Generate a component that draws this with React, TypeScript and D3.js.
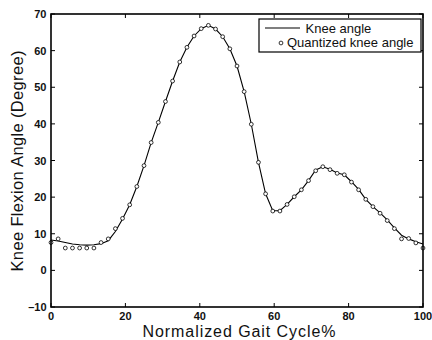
import React from "react";
import * as d3 from "d3";

// Knee flexion over one gait cycle, 53 evenly spaced samples (0–100 %)
const sampleCount = 53;
const kneeAngle = [
  8.3, 8.0, 7.6, 7.2, 7.0, 6.9, 7.0, 7.3, 8.1, 10.6, 14.0, 17.9, 22.9,
  28.6, 34.9, 40.4, 46.1, 51.7, 56.9, 60.9, 64.0, 66.0, 66.9, 65.9, 63.8,
  60.5, 55.8, 48.8, 39.9, 29.5, 20.9, 16.3, 16.3, 18.0, 20.1, 22.0, 24.5,
  27.4, 28.3, 27.6, 26.6, 26.1, 24.2, 22.1, 19.4, 17.4, 15.7, 13.8, 11.6,
  9.6, 8.6, 7.8, 7.2,
];
const quantizedAngle = [
  7.6, 8.6, 6.1, 6.1, 6.1, 6.1, 6.1, 7.6, 8.6, 11.4, 14.2, 17.9, 22.9,
  28.6, 34.9, 40.4, 46.1, 51.7, 56.9, 60.9, 64.0, 66.0, 66.9, 65.9, 63.8,
  60.5, 55.8, 48.8, 39.9, 29.5, 20.9, 16.2, 16.2, 18.0, 20.1, 22.0, 24.5,
  27.2, 28.3, 27.5, 26.5, 26.1, 24.1, 22.0, 19.4, 17.4, 15.6, 13.6, 11.4,
  8.6, 8.7, 7.5, 6.1,
];
const gaitPercent = d3.range(sampleCount).map((i) => (i * 100) / (sampleCount - 1));

const xTicks = [0, 20, 40, 60, 80, 100];
const yTicks = [-10, 0, 10, 20, 30, 40, 50, 60, 70];
const legendLabels = ["Knee angle", "Quantized knee angle"];

const W = 432;
const H = 340;
const plot = { left: 51, right: 423, top: 14, bottom: 307 };
const FONT = "'Liberation Sans', Arial, Helvetica, sans-serif";

export default function App() {
  const x = d3.scaleLinear().domain([0, 100]).range([plot.left, plot.right]);
  const y = d3.scaleLinear().domain([-10, 70]).range([plot.bottom, plot.top]);

  const line = d3
    .line<number>()
    .x((_, i) => x(gaitPercent[i]))
    .y((d) => y(d));

  const tickLen = 4;
  const lg = { x: 259, y: 19, w: 162, h: 33 };

  return (
    <svg
      width={W}
      height={H}
      viewBox={`0 0 ${W} ${H}`}
      style={{ position: "absolute", left: 0, top: 0, background: "#fff" }}
      fontFamily={FONT}
    >
      <rect x={0} y={0} width={W} height={H} fill="#fff" />

      {/* ticks on all four sides, pointing inward */}
      <g stroke="#000" strokeWidth={1}>
        {xTicks.map((t) => (
          <g key={`xt${t}`}>
            <line x1={x(t)} x2={x(t)} y1={plot.bottom} y2={plot.bottom - tickLen} />
            <line x1={x(t)} x2={x(t)} y1={plot.top} y2={plot.top + tickLen} />
          </g>
        ))}
        {yTicks.map((t) => (
          <g key={`yt${t}`}>
            <line x1={plot.left} x2={plot.left + tickLen} y1={y(t)} y2={y(t)} />
            <line x1={plot.right} x2={plot.right - tickLen} y1={y(t)} y2={y(t)} />
          </g>
        ))}
      </g>

      {/* knee angle curve */}
      <path d={line(kneeAngle) ?? ""} fill="none" stroke="#000" strokeWidth={1.1} />

      {/* quantized samples */}
      <g fill="#fff" stroke="#000" strokeWidth={0.8}>
        {quantizedAngle.map((v, i) => (
          <circle key={i} cx={x(gaitPercent[i])} cy={y(v)} r={1.9} />
        ))}
      </g>

      {/* axes frame */}
      <rect
        x={plot.left}
        y={plot.top}
        width={plot.right - plot.left}
        height={plot.bottom - plot.top}
        fill="none"
        stroke="#000"
        strokeWidth={1.6}
      />

      {/* tick labels */}
      <g fontSize={11} fontWeight="bold" fill="#111">
        {xTicks.map((t) => (
          <text key={`xl${t}`} x={x(t)} y={320} textAnchor="middle">
            {t}
          </text>
        ))}
        {yTicks.map((t) => (
          <text key={`yl${t}`} x={46.5} y={y(t) + 4} textAnchor="end">
            {t < 0 ? `\u2013${Math.abs(t)}` : t}
          </text>
        ))}
      </g>

      {/* axis titles */}
      <text
        x={239}
        y={337}
        textAnchor="middle"
        fontSize={16}
        fill="#111"
        textLength={193}
        lengthAdjust="spacing"
      >
        Normalized Gait Cycle%
      </text>
      <text
        transform={`translate(22.5, 161) rotate(-90)`}
        textAnchor="middle"
        fontSize={16.5}
        fill="#111"
        textLength={221}
        lengthAdjust="spacing"
      >
        Knee Flexion Angle (Degree)
      </text>

      {/* legend */}
      <g>
        <rect x={lg.x} y={lg.y} width={lg.w} height={lg.h} fill="#fff" stroke="#000" strokeWidth={1.2} />
        <line x1={265} x2={300} y1={28} y2={28} stroke="#000" strokeWidth={1.1} />
        <circle cx={281} cy={43} r={1.9} fill="#fff" stroke="#000" strokeWidth={0.8} />
        <text x={305.5} y={33} fontSize={13} fill="#111">
          {legendLabels[0]}
        </text>
        <text x={287} y={47} fontSize={13} fill="#111">
          {legendLabels[1]}
        </text>
      </g>
    </svg>
  );
}
